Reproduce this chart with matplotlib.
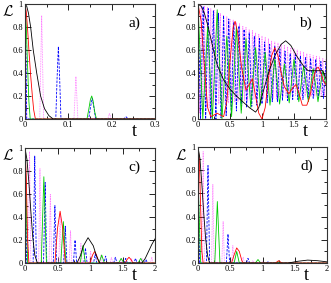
import numpy as np
import matplotlib
matplotlib.use("Agg")
import matplotlib.pyplot as plt
from matplotlib.ticker import MultipleLocator, FuncFormatter

plt.rcParams['font.family'] = ['Liberation Serif', 'DejaVu Serif']
plt.rcParams['mathtext.fontset'] = 'cm'

# ---------------- panel a ----------------
a_black_t = [0, 0.004, 0.008, 0.013, 0.019, 0.027, 0.036, 0.045, 0.055, 0.065, 0.3]
a_black_L = [1, 0.98, 0.92, 0.8, 0.6, 0.4, 0.2, 0.09, 0.03, 0.0, 0.0]
a_red_t = [0, 0.003, 0.006, 0.009, 0.013, 0.017, 0.02, 0.024, 0.3]
a_red_L = [1, 0.93, 0.78, 0.6, 0.38, 0.2, 0.08, 0.0, 0.0]
a_green_t = [0, 0.003, 0.006, 0.009, 0.012, 0.143, 0.147, 0.151, 0.154, 0.157, 0.161, 0.165, 0.3]
a_green_L = [1, 0.8, 0.45, 0.15, 0, 0, 0.08, 0.17, 0.2, 0.16, 0.06, 0, 0]
a_blue_t = [0, 0.002, 0.004, 0.071, 0.074, 0.077, 0.080, 0.083, 0.147, 0.151, 0.155, 0.159,
            0.163, 0.228, 0.233, 0.238, 0.3]
a_blue_L = [1, 0.6, 0, 0, 0.35, 0.63, 0.35, 0, 0, 0.1, 0.18, 0.1, 0, 0, 0.02, 0, 0]
a_mag_t = [0, 0.002, 0.004, 0.034, 0.0385, 0.043, 0.113, 0.1175, 0.122, 0.191, 0.195, 0.199, 0.3]
a_mag_L = [1, 0.5, 0, 0, 0.9, 0, 0, 0.37, 0, 0, 0.05, 0, 0]

# ---------------- panel b ----------------
b_black_t = [0, 0.05, 0.1, 0.15, 0.2, 0.25, 0.3, 0.4, 0.5, 0.6, 0.7, 0.8, 0.9, 0.95, 1.0, 1.05,
             1.1, 1.2, 1.3, 1.37, 1.45, 1.55, 1.65, 1.72, 1.95, 2.0]
b_black_L = [1, 0.98, 0.92, 0.82, 0.7, 0.58, 0.47, 0.34, 0.26, 0.2, 0.15, 0.1, 0.06, 0.1, 0.2,
             0.3, 0.4, 0.55, 0.65, 0.68, 0.64, 0.54, 0.46, 0.42, 0.42, 0.35]
b_red_t = [0, 0.05, 0.1, 0.15, 0.2, 0.3, 0.4, 0.45, 0.5, 0.55, 0.58, 0.62, 0.68, 0.75, 0.8, 0.85,
           0.9, 0.95, 1.0, 1.05, 1.1, 1.15, 1.2, 1.25, 1.3, 1.35, 1.42, 1.48, 1.53, 1.58, 1.63,
           1.7, 1.75, 1.8, 1.85, 1.88, 1.92, 1.96, 2.0]
b_red_L = [1, 0.85, 0.45, 0.1, 0.02, 0.05, 0.02, 0.15, 0.5, 0.8, 0.85, 0.75, 0.45, 0.25, 0.3,
           0.35, 0.2, 0.05, 0.0, 0.1, 0.35, 0.55, 0.62, 0.55, 0.4, 0.28, 0.22, 0.27, 0.3, 0.22,
           0.12, 0.12, 0.2, 0.35, 0.44, 0.45, 0.4, 0.33, 0.3]
b_green_pk_t = [0, 0.15, 0.3, 0.45, 0.6, 0.75, 0.9, 1.05, 1.2, 1.35, 1.5, 1.65, 1.8, 1.95]
b_green_pk_L = [1, 0.8, 0.95, 0.72, 0.8, 0.7, 0.62, 0.58, 0.52, 0.48, 0.52, 0.46, 0.44, 0.42]
b_green_tr_t = [0.075, 0.225, 0.375, 0.525, 0.675, 0.825, 0.975, 1.125, 1.275, 1.425, 1.575,
                1.725, 1.875, 2.0]
b_green_tr_L = [0, 0, 0, 0.02, 0.05, 0.1, 0.12, 0.12, 0.13, 0.14, 0.15, 0.15, 0.15, 0.3]
b_blue_pk_t = [0, 0.08, 0.16, 0.24, 0.32, 0.4, 0.48, 0.56, 0.64, 0.72, 0.8, 0.88, 0.96, 1.04,
               1.12, 1.2, 1.28, 1.36, 1.44, 1.52, 1.6, 1.68, 1.76, 1.84, 1.92, 2.0]
b_blue_pk_L = [1, 0.98, 0.96, 0.94, 0.92, 0.9, 0.87, 0.84, 0.81, 0.78, 0.75, 0.72, 0.7, 0.67,
               0.65, 0.63, 0.61, 0.59, 0.57, 0.56, 0.55, 0.54, 0.53, 0.52, 0.5, 0.5]
b_blue_tr_t = [0.04, 0.12, 0.2, 0.28, 0.36, 0.44, 0.52, 0.6, 0.68, 0.76, 0.84, 0.92, 1.0, 1.08,
               1.16, 1.24, 1.32, 1.4, 1.48, 1.56, 1.64, 1.72, 1.8, 1.88, 1.96]
b_blue_tr_L = [0, 0, 0, 0, 0.01, 0.03, 0.05, 0.07, 0.08, 0.1, 0.11, 0.12, 0.13, 0.14, 0.15,
               0.15, 0.16, 0.16, 0.17, 0.17, 0.17, 0.18, 0.18, 0.18, 0.18]
b_mag_pk_t = [0, 0.05, 0.1, 0.15, 0.2, 0.25, 0.3, 0.35, 0.4, 0.45, 0.5, 0.55, 0.6, 0.65, 0.7,
              0.75, 0.8, 0.85, 0.9, 0.95, 1.0, 1.05, 1.1, 1.15, 1.2, 1.25, 1.3, 1.35, 1.4, 1.45,
              1.5, 1.55, 1.6, 1.65, 1.7, 1.75, 1.8, 1.85, 1.9, 1.95, 2.0]
b_mag_pk_L = [1, 0.99, 0.98, 0.97, 0.96, 0.95, 0.93, 0.92, 0.9, 0.89, 0.87, 0.86, 0.84, 0.83,
              0.81, 0.8, 0.78, 0.77, 0.75, 0.74, 0.72, 0.71, 0.7, 0.68, 0.67, 0.66, 0.65, 0.64,
              0.63, 0.62, 0.61, 0.6, 0.59, 0.58, 0.57, 0.56, 0.55, 0.55, 0.54, 0.53, 0.52]
b_mag_tr_t = [0.025, 0.075, 0.125, 0.175, 0.225, 0.275, 0.325, 0.375, 0.425, 0.475, 0.525,
              0.575, 0.625, 0.675, 0.725, 0.775, 0.825, 0.875, 0.925, 0.975, 1.025, 1.075,
              1.125, 1.175, 1.225, 1.275, 1.325, 1.375, 1.425, 1.475, 1.525, 1.575, 1.625,
              1.675, 1.725, 1.775, 1.825, 1.875, 1.925, 1.975]
b_mag_tr_L = [0.05, 0.08, 0.1, 0.1, 0.12, 0.12, 0.13, 0.13, 0.14, 0.14, 0.15, 0.15, 0.15, 0.16,
              0.16, 0.16, 0.17, 0.17, 0.17, 0.17, 0.18, 0.18, 0.18, 0.18, 0.18, 0.19, 0.19, 0.19,
              0.19, 0.19, 0.2, 0.2, 0.2, 0.2, 0.2, 0.2, 0.2, 0.2, 0.2, 0.2]

# ---------------- panel c ----------------
c_black_t = [0, 0.03, 0.06, 0.09, 0.12, 0.15, 0.19, 0.8, 0.85, 0.9, 0.97, 1.05, 1.1, 1.15, 1.8,
             1.85, 1.9, 1.95, 2.0]
c_black_L = [1, 0.9, 0.7, 0.45, 0.22, 0.07, 0, 0, 0.06, 0.15, 0.22, 0.15, 0.06, 0, 0, 0.04, 0.1,
             0.16, 0.21]
c_red_t = [0, 0.02, 0.04, 0.06, 0.46, 0.5, 0.54, 0.58, 0.62, 1.0, 1.04, 1.07, 1.1, 1.14, 1.54,
           1.57, 1.6, 1.63, 1.66, 2.0]
c_red_L = [1, 0.75, 0.2, 0, 0, 0.3, 0.45, 0.3, 0, 0, 0.07, 0.1, 0.07, 0, 0, 0.03, 0.05, 0.03, 0, 0]
c_green_pk_t = [0, 0.29, 0.59, 0.89, 1.18, 1.48, 1.78]
c_green_pk_L = [1, 0.75, 0.36, 0.15, 0.07, 0.04, 0.04]
c_blue_pk_t = [0, 0.15, 0.31, 0.46, 0.62, 0.77, 0.93, 1.08, 1.24, 1.39, 1.55, 1.7, 1.86]
c_blue_pk_L = [1, 0.93, 0.7, 0.5, 0.32, 0.2, 0.13, 0.08, 0.06, 0.05, 0.04, 0.04, 0.03]
c_mag_pk_t = [0.07, 0.23, 0.39, 0.54, 0.7, 0.86, 1.01, 1.17, 1.33, 1.48, 1.64, 1.8, 1.95]
c_mag_pk_L = [0.97, 0.82, 0.6, 0.42, 0.28, 0.17, 0.1, 0.07, 0.05, 0.04, 0.04, 0.04, 0.05]

# ---------------- panel d ----------------
d_black_t = [0, 0.03, 0.06, 0.09, 0.12, 0.15, 0.18, 1.4, 1.55, 1.7, 1.85, 2.0]
d_black_L = [1, 0.9, 0.68, 0.42, 0.2, 0.06, 0, 0, 0.015, 0.025, 0.02, 0.01]
d_red_t = [0, 0.02, 0.04, 0.06, 0.08, 0.52, 0.56, 0.6, 0.64, 0.68, 0.7, 1.2, 1.25, 1.3, 2.0]
d_red_L = [1, 0.9, 0.5, 0.1, 0, 0, 0.07, 0.13, 0.1, 0.02, 0, 0, 0.02, 0, 0]
d_green_pk_t = [0, 0.3, 0.6, 0.93, 1.25]
d_green_pk_L = [0.75, 0.53, 0.1, 0.03, 0.01]
d_blue_pk_t = [0, 0.155, 0.465, 0.775, 1.085]
d_blue_pk_L = [0.9, 0.84, 0.25, 0.04, 0.01]
d_mag_pk_t = [0.08, 0.23, 0.39, 0.54, 0.7, 0.85, 1.0]
d_mag_pk_L = [0.96, 0.68, 0.36, 0.15, 0.05, 0.02, 0.01]

# half-widths of narrow peaks (panels c, d)
bump_w = {'green': 0.04, 'blue': 0.025, 'mag': 0.02}

C_BLACK, C_RED, C_GREEN, C_BLUE, C_MAG = 'black', '#ff0000', '#00cc00', '#0000ff', '#ff77ff'


def merge(pt, pl, tt, tl):
    t = np.array(list(pt) + list(tt), float)
    L = np.array(list(pl) + list(tl), float)
    o = np.argsort(t, kind='stable')
    return t[o], L[o]


def bumps(pt, pl, w, tmax):
    t, L = [0.0], [0.0]
    for p, h in zip(pt, pl):
        t += [max(p - w, 0.0), p, p + w]
        L += [0.0 if p - w > 0 else h, h, 0.0]
    t.append(tmax)
    L.append(0.0)
    return t, L


def fmt(v, pos):
    s = ('%.2f' % v).rstrip('0').rstrip('.')
    return s


fig = plt.figure(figsize=(3.31, 2.83), dpi=100)
W, H = 331, 283
boxes = {
    'a': (25, 4, 155, 119),
    'b': (198, 4, 326, 119),
    'c': (25, 148, 155, 263),
    'd': (198, 147, 327, 263),
}
axes = {}
for k, (x0, y0, x1, y1) in boxes.items():
    ax = fig.add_axes([x0 / W, 1 - y1 / H, (x1 - x0) / W, (y1 - y0) / H])
    axes[k] = ax

lw = 0.6
styles = dict(
    black=dict(color=C_BLACK, ls='-', lw=lw),
    red=dict(color=C_RED, ls='-', lw=lw),
    green=dict(color=C_GREEN, ls='-', lw=lw),
    blue=dict(color=C_BLUE, ls=(0, (3, 1.5)), lw=lw),
    mag=dict(color=C_MAG, ls=(0, (1, 1)), lw=lw),
)

# panel a
ax = axes['a']
ax.plot(a_mag_t, a_mag_L, **styles['mag'])
ax.plot(a_blue_t, a_blue_L, **styles['blue'])
ax.plot(a_green_t, a_green_L, **styles['green'])
ax.plot(a_red_t, a_red_L, **styles['red'])
ax.plot(a_black_t, a_black_L, **styles['black'])

# panel b
ax = axes['b']
t, L = merge(b_mag_pk_t, b_mag_pk_L, b_mag_tr_t, b_mag_tr_L)
ax.plot(t, L, **styles['mag'])
t, L = merge(b_blue_pk_t, b_blue_pk_L, b_blue_tr_t, b_blue_tr_L)
ax.plot(t, L, **styles['blue'])
t, L = merge(b_green_pk_t, b_green_pk_L, b_green_tr_t, b_green_tr_L)
ax.plot(t, L, **styles['green'])
ax.plot(b_red_t, b_red_L, **styles['red'])
ax.plot(b_black_t, b_black_L, **styles['black'])

# panel c
ax = axes['c']
ax.plot(*bumps(c_mag_pk_t, c_mag_pk_L, bump_w['mag'], 2.0), **styles['mag'])
ax.plot(*bumps(c_blue_pk_t, c_blue_pk_L, bump_w['blue'], 2.0), **styles['blue'])
ax.plot(*bumps(c_green_pk_t, c_green_pk_L, bump_w['green'], 2.0), **styles['green'])
ax.plot(c_red_t, c_red_L, **styles['red'])
ax.plot(c_black_t, c_black_L, **styles['black'])

# panel d
ax = axes['d']
ax.plot(*bumps(d_mag_pk_t, d_mag_pk_L, bump_w['mag'], 2.0), **styles['mag'])
ax.plot(*bumps(d_blue_pk_t, d_blue_pk_L, bump_w['blue'], 2.0), **styles['blue'])
ax.plot(*bumps(d_green_pk_t, d_green_pk_L, bump_w['green'], 2.0), **styles['green'])
ax.plot(d_red_t, d_red_L, **styles['red'])
ax.plot(d_black_t, d_black_L, **styles['black'])

labels = {'a': 'a)', 'b': 'b)', 'c': 'c)', 'd': 'd)'}
for k, ax in axes.items():
    if k == 'a':
        ax.set_xlim(0, 0.3)
        ax.xaxis.set_major_locator(MultipleLocator(0.1))
        ax.xaxis.set_minor_locator(MultipleLocator(0.05))
    else:
        ax.set_xlim(0, 2)
        ax.xaxis.set_major_locator(MultipleLocator(0.5))
        ax.xaxis.set_minor_locator(MultipleLocator(0.25))
    ax.set_ylim(0, 1)
    ax.yaxis.set_major_locator(MultipleLocator(0.2))
    ax.yaxis.set_minor_locator(MultipleLocator(0.1))
    ax.xaxis.set_major_formatter(FuncFormatter(fmt))
    ax.yaxis.set_major_formatter(FuncFormatter(fmt))
    ax.tick_params(which='both', direction='in', top=True, right=True,
                   labelsize=6, width=0.6, pad=1.5)
    ax.tick_params(which='major', length=4)
    ax.tick_params(which='minor', length=2)
    for s in ax.spines.values():
        s.set_linewidth(0.8)
        s.set_color('#333333')
    ax.text(0.84, 0.83, labels[k], transform=ax.transAxes, fontsize=11,
            ha='center', va='center')

# axis titles: t and L
for k, ax in axes.items():
    x0, y0, x1, y1 = boxes[k]
    fig.text((x1 - 21) / W, 1 - (y1 + 12) / H, 't', fontsize=13, ha='center', va='center')
    fig.text((x0 - 17) / W, 1 - (y0 + 8) / H, r'$\mathcal{L}$', fontsize=11,
             ha='center', va='center')

fig.savefig('out.png', dpi=100)
